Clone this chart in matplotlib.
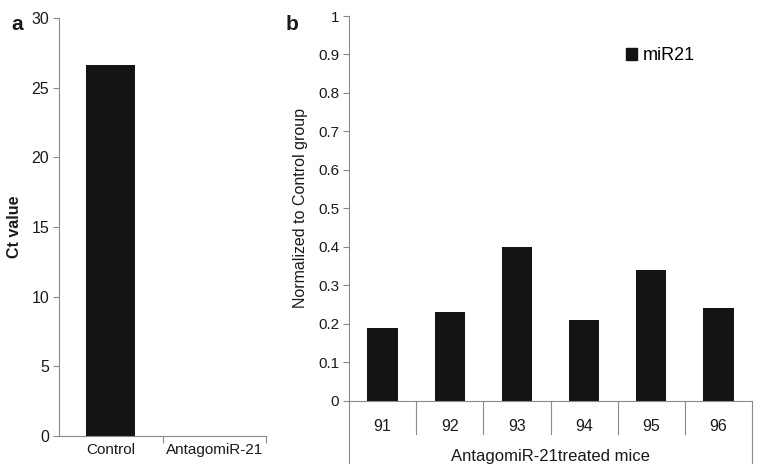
import matplotlib
matplotlib.use("Agg")
import matplotlib.pyplot as plt
from matplotlib.patches import Patch
from matplotlib.lines import Line2D

plt.rcParams['font.family'] = ['Liberation Sans', 'DejaVu Sans']

# Panel a data
a_categories = ["Control", "AntagomiR-21"]
a_values = [26.6, 0.0]
a_yticks = [0, 5, 10, 15, 20, 25, 30]

# Panel b data
b_categories = ["91", "92", "93", "94", "95", "96"]
b_values = [0.19, 0.23, 0.40, 0.21, 0.34, 0.24]
b_yticks = [0, 0.1, 0.2, 0.3, 0.4, 0.5, 0.6, 0.7, 0.8, 0.9, 1]
b_ytick_labels = ["0", "0.1", "0.2", "0.3", "0.4", "0.5", "0.6", "0.7", "0.8", "0.9", "1"]

W, H = 762, 475
fig = plt.figure(figsize=(W/100, H/100), dpi=100)

bar_color = "#141414"
axis_color = "#8a8a8a"
text_color = "#1a1a1a"

def fx(px): return px / W
def fy(py): return 1 - py / H

# ---------- Panel a ----------
axa = fig.add_axes([fx(59), fy(436), fx(266) - fx(59), fy(18) - fy(436)])
xa = list(range(len(a_categories)))
axa.bar(xa, a_values, width=0.47, color=bar_color)
axa.set_xlim(-0.5, 1.5)
axa.set_ylim(0, 30)
axa.set_yticks(a_yticks)
axa.set_yticklabels([str(t) for t in a_yticks], fontsize=11.5, color=text_color)
for s in ["top", "right"]:
    axa.spines[s].set_visible(False)
for s in ["left", "bottom"]:
    axa.spines[s].set_color(axis_color)
    axa.spines[s].set_linewidth(0.8)
axa.set_xticks([0.5, 1.5])
axa.set_xticklabels([])
axa.set_xticks(xa, minor=True)
axa.set_xticklabels(a_categories, minor=True, fontsize=11, color=text_color)
axa.tick_params(axis='x', which='major', length=5, color=axis_color, direction='out')
axa.tick_params(axis='x', which='minor', length=0, pad=5)
axa.tick_params(axis='y', length=4, color=axis_color, direction='out', pad=3)
axa.set_ylabel("Ct value", fontsize=11.5, fontweight='bold', color=text_color, labelpad=7)
fig.text(fx(17), fy(24), "a", fontsize=15, fontweight='bold', ha='center', va='center', color=text_color)

# ---------- Panel b ----------
axb = fig.add_axes([fx(349), fy(400.7), fx(752) - fx(349), fy(16) - fy(400.7)])
xb = list(range(len(b_categories)))
axb.bar(xb, b_values, width=0.45, color=bar_color)
axb.set_xlim(-0.5, len(b_categories) - 0.5)
axb.set_ylim(0, 1)
axb.set_yticks(b_yticks)
axb.set_yticklabels(b_ytick_labels, fontsize=11, color=text_color)
for s in ["top", "right"]:
    axb.spines[s].set_visible(False)
for s in ["left", "bottom"]:
    axb.spines[s].set_color(axis_color)
    axb.spines[s].set_linewidth(0.8)
axb.set_xticks(xb)
axb.set_xticklabels(b_categories, fontsize=11.5, color=text_color)
axb.tick_params(axis='x', length=0, pad=13)
axb.tick_params(axis='y', length=4, color=axis_color, direction='out', pad=3)
# category separators
trans = axb.get_xaxis_transform()
sep_len = (434 - 400.7) / (400.7 - 16)
out_len = (463 - 400.7) / (400.7 - 16)
for i in range(1, len(b_categories)):
    axb.add_line(Line2D([i - 0.5, i - 0.5], [0, -sep_len], transform=trans,
                        color=axis_color, lw=0.8, clip_on=False))
for xv in [-0.5, len(b_categories) - 0.5]:
    axb.add_line(Line2D([xv, xv], [0, -out_len], transform=trans,
                        color=axis_color, lw=0.8, clip_on=False))
fig.text((fx(349) + fx(752)) / 2, fy(457), "AntagomiR-21treated mice", fontsize=12,
         ha='center', va='center', color=text_color)
axb.set_ylabel("Normalized to Control group", fontsize=11.5, color=text_color, labelpad=7)
leg = axb.legend(handles=[Patch(color=bar_color, label="miR21")], loc='upper left',
                 frameon=False, fontsize=13,
                 handlelength=0.6, handleheight=0.6, handletextpad=0.3, borderaxespad=0)
leg.set_bbox_to_anchor((fx(619), fy(40)), transform=fig.transFigure)
fig.text(fx(292), fy(24), "b", fontsize=15, fontweight='bold', ha='center', va='center', color=text_color)

fig.savefig("out.png", dpi=100)
